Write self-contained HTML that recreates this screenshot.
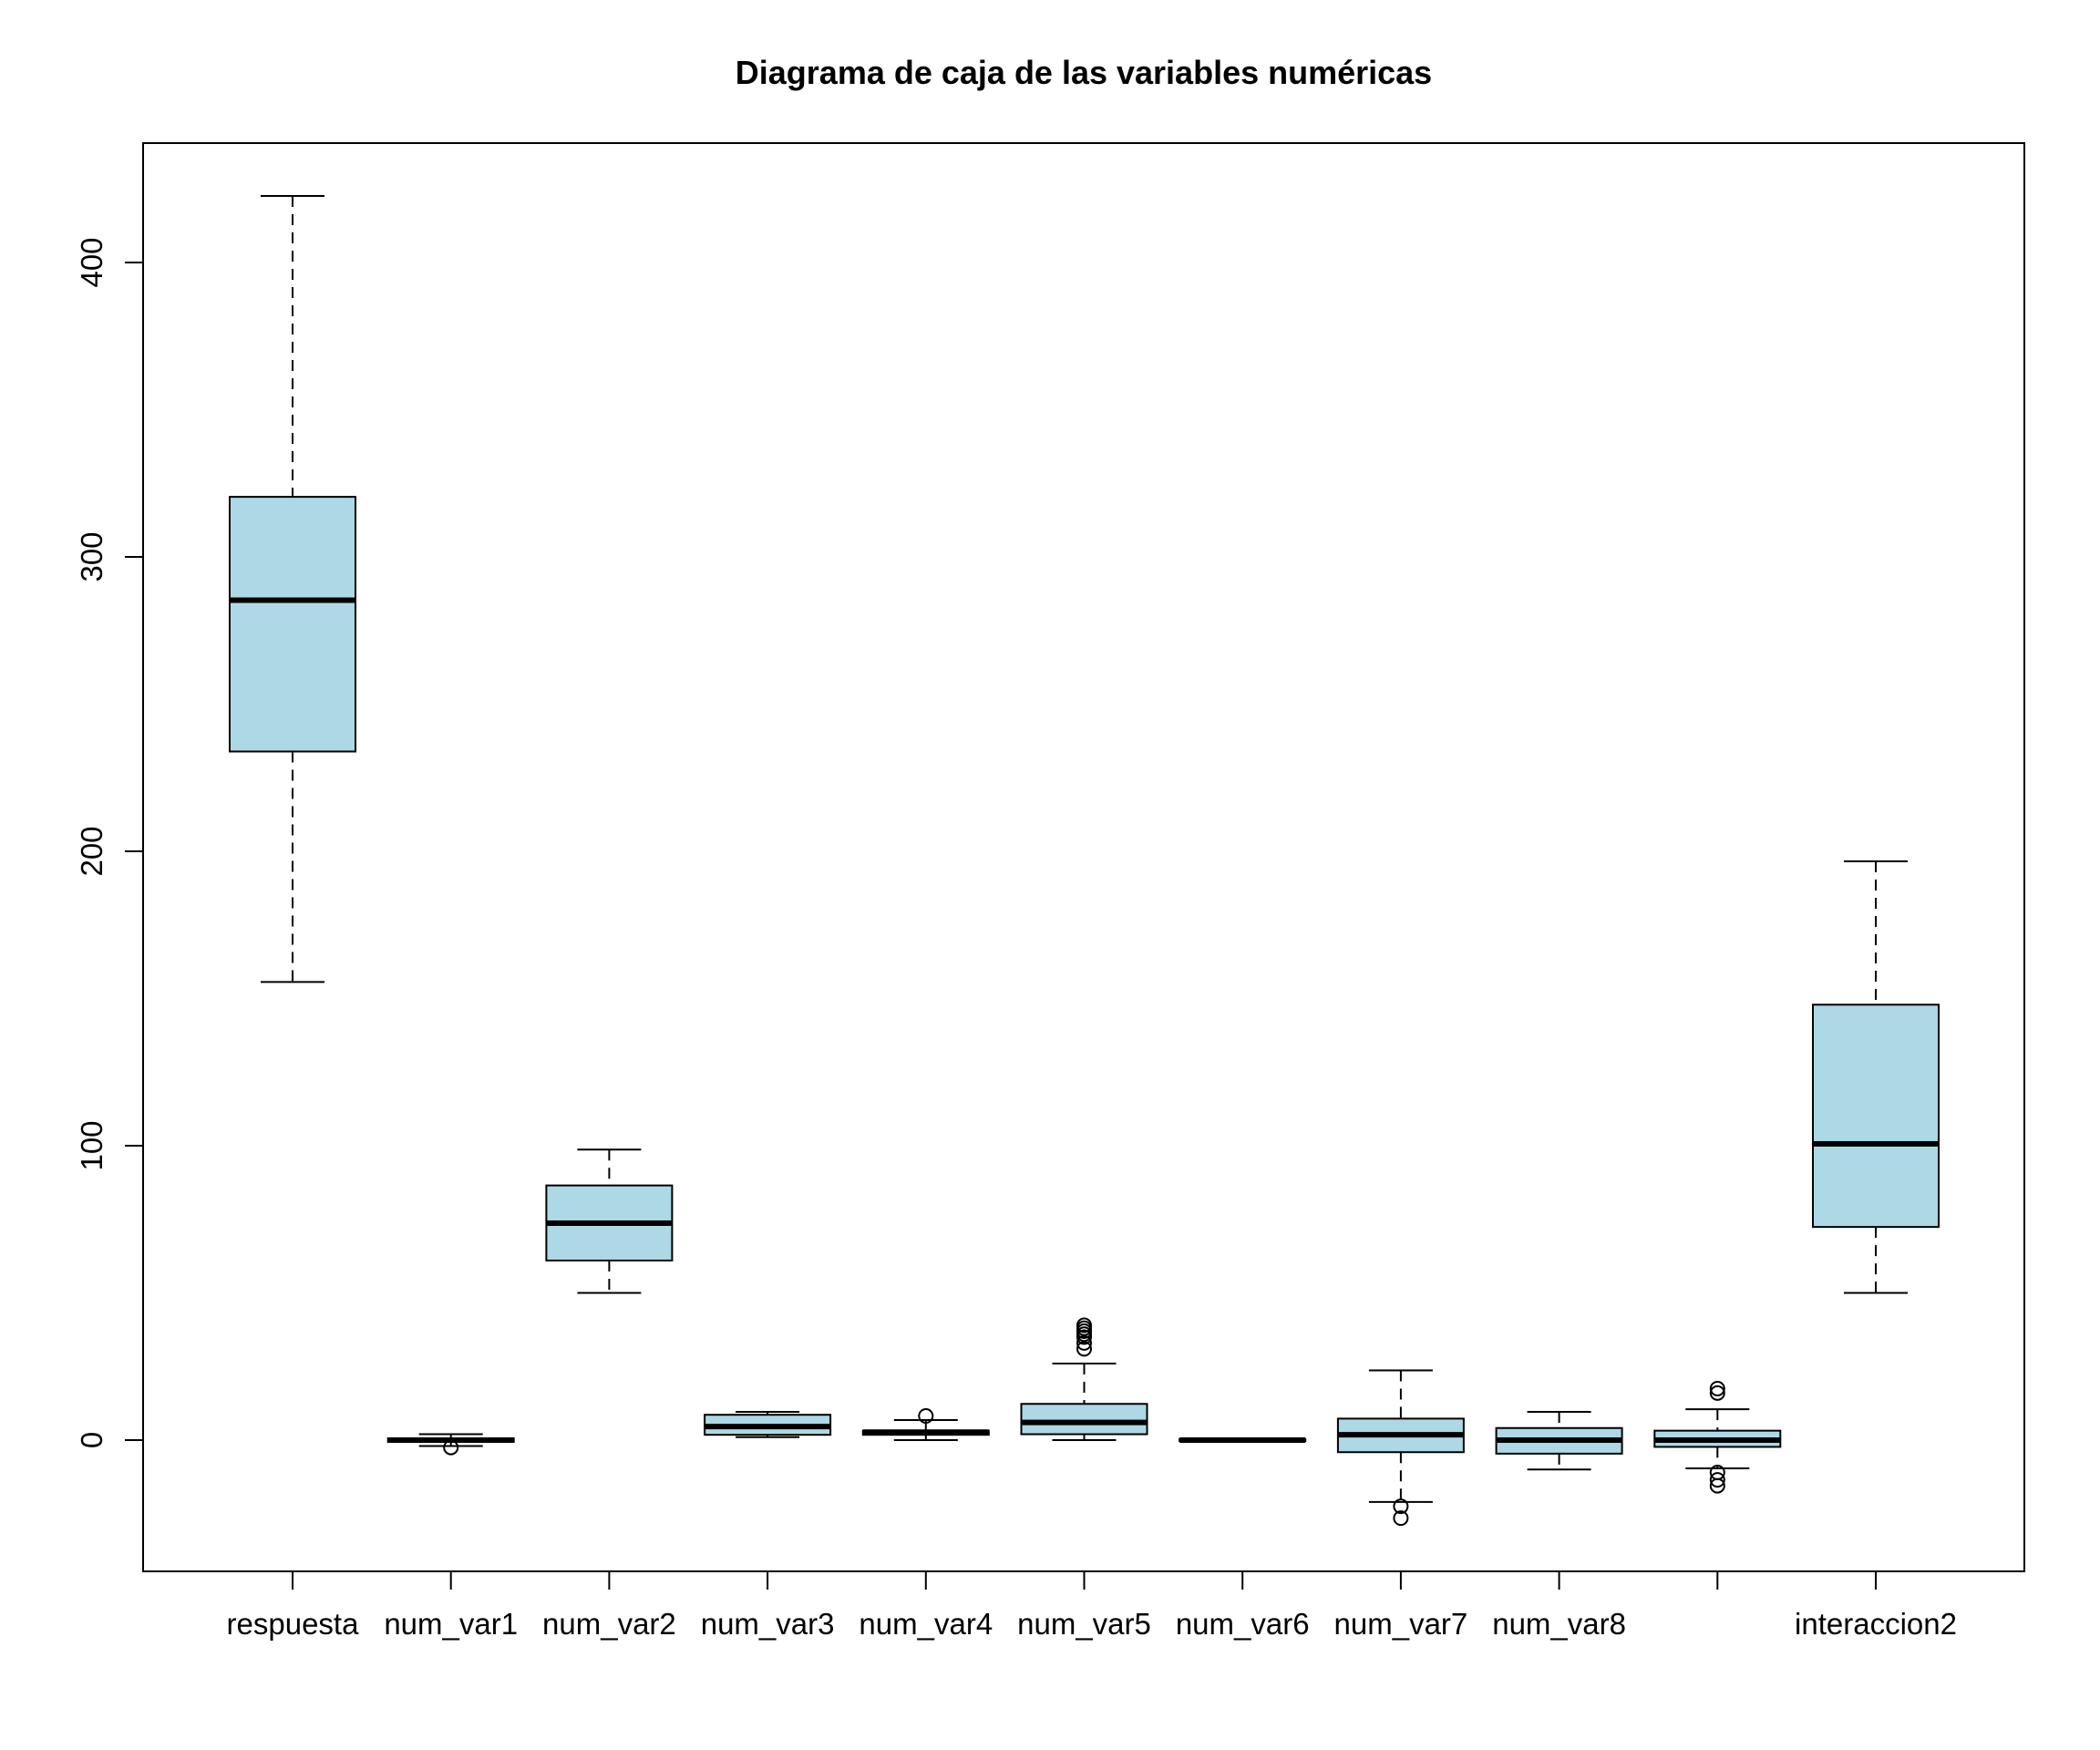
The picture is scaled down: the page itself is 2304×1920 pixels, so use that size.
<!DOCTYPE html>
<html><head><meta charset="utf-8"><style>html,body{margin:0;padding:0;background:#fff}svg{display:block}</style></head>
<body>
<svg id="chart" width="2304" height="1920" xmlns="http://www.w3.org/2000/svg" font-family="Liberation Sans, sans-serif">
<rect width="2304" height="1920" fill="#fff"/>
<text x="1189" y="92" font-size="36" font-weight="bold" text-anchor="middle">Diagrama de caja de las variables numéricas</text>
<g id="plot"></g>
</svg>
<script>
const categories = ["respuesta","num_var1","num_var2","num_var3","num_var4","num_var5","num_var6","num_var7","num_var8","","interaccion2"];
const lowerWhisker = [155.6,-2,50,1,0,0,-0.3,-21,-10,-9.6,50];
const q1Values = [233.9,-0.6,61,1.8,1.8,2,-0.3,-4.1,-4.6,-2.3,72.4];
const medianValues = [285.3,0,73.7,4.6,2.7,6,0,1.8,0,0,100.6];
const q3Values = [320.4,0.6,86.5,8.6,3.2,12.3,0.3,7.3,4.1,3.2,147.9];
const upperWhisker = [422.6,2,98.7,9.6,6.8,26,0.3,23.7,9.6,10.5,196.6];
const outliers = [[],[-2.5],[],[],[8.2],[31,33,35,36,37,38,39],[],[-22.5,-26.5],[],[16,17.5,-11,-13.5,-15.5],[]];
const yTicks = [0,100,200,300,400];

const NS="http://www.w3.org/2000/svg";
const plot=document.getElementById('plot');
const L=157,R=2221,T=157,B=1724;
const y0=1580, y400=288;
function yScale(v){return y0+(y400-y0)*v/400;}
function xScale(i){return 321+i*173.7;}
function mk(tag,attrs,parent){const e=document.createElementNS(NS,tag);for(const k in attrs)e.setAttribute(k,attrs[k]);(parent||plot).appendChild(e);return e;}

const frame=mk('rect',{x:L,y:T,width:R-L,height:B-T,fill:'none',stroke:'#000','stroke-width':2});



yTicks.forEach(v=>{
  const y=yScale(v);
  const t=mk('line',{x1:L-20,x2:L,y1:y,y2:y,stroke:'#000','stroke-width':2});
  
  
  const lb=mk('text',{x:0,y:0,'font-size':33,'text-anchor':'middle',transform:`translate(112,${y}) rotate(-90)`});
  lb.textContent=String(v);
  
  
});

categories.forEach((c,i)=>{
  const x=xScale(i);
  const g=mk('g',{});
  
  
  const t=mk('line',{x1:x,x2:x,y1:B,y2:B+20,stroke:'#000','stroke-width':2},g);
  
  
  if(c){
    const lb=mk('text',{x:x,y:1793,'font-size':33,'text-anchor':'middle'},g);
    lb.textContent=c;
    
    
  }
  const yq1=yScale(q1Values[i]),yq3=yScale(q3Values[i]),ym=yScale(medianValues[i]);
  const ylo=yScale(lowerWhisker[i]),yhi=yScale(upperWhisker[i]);
  const w1=mk('line',{x1:x,x2:x,y1:yhi,y2:yq3,stroke:'#000','stroke-width':2,'stroke-dasharray':'12,8'},g);
  
  
  const w2=mk('line',{x1:x,x2:x,y1:yq1,y2:ylo,stroke:'#000','stroke-width':2,'stroke-dasharray':'12,8'},g);
  
  
  const c1=mk('line',{x1:x-35,x2:x+35,y1:yhi,y2:yhi,stroke:'#000','stroke-width':2},g);
  
  
  const c2=mk('line',{x1:x-35,x2:x+35,y1:ylo,y2:ylo,stroke:'#000','stroke-width':2},g);
  
  
  const bx=mk('rect',{x:x-69,y:yq3,width:138,height:Math.max(yq1-yq3,0.5),fill:'#add8e6',stroke:'#000','stroke-width':2},g);
  
  
  const md=mk('line',{x1:x-69,x2:x+69,y1:ym,y2:ym,stroke:'#000','stroke-width':6},g);
  
  
  outliers[i].forEach(v=>{
    const o=mk('circle',{cx:x,cy:yScale(v),r:7.5,fill:'none',stroke:'#000','stroke-width':2},g);
    
    
  });
});
</script>
</body></html>
